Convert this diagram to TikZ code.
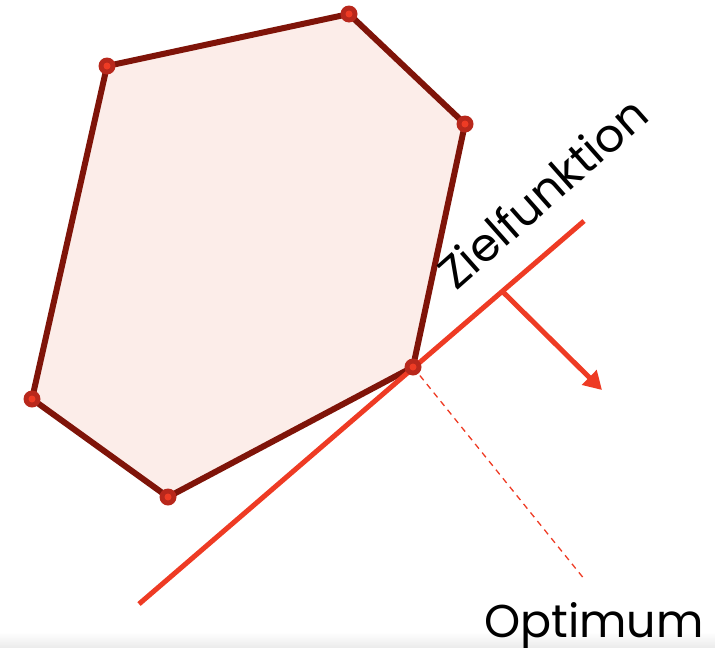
\documentclass[tikz,border=0pt]{standalone}
\usepackage{fontspec}
\setmainfont{Poppins}
\usetikzlibrary{arrows.meta}
\definecolor{polyfill}{HTML}{FCEDE9}
\definecolor{polyedge}{HTML}{7F1409}
\definecolor{dotout}{HTML}{B8281C}
\definecolor{dotin}{HTML}{EE3B24}
\definecolor{zfred}{HTML}{EE3B24}
\tikzset{
  edge/.style={draw=polyedge,line width=6pt,line join=round},
  zf/.style={draw=zfred,line width=5pt},
  lbl/.style={font=\fontsize{46}{52}\selectfont,inner sep=0pt,text=black}
}
\begin{document}
\begin{tikzpicture}[x=1pt,y=-1pt]
\useasboundingbox (0,0) rectangle (715,648);
\shade[top color=white,bottom color=black!8] (0,632) rectangle (715,648);
\coordinate (v1) at (107,66);
\coordinate (v2) at (349,14);
\coordinate (v3) at (465,124);
\coordinate (v4) at (413,367);
\coordinate (v5) at (168,497);
\coordinate (v6) at (32,399);
\filldraw[fill=polyfill,edge] (v1)--(v2)--(v3)--(v4)--(v5)--(v6)--cycle;
\coordinate (la) at (139,604);
\coordinate (lb) at (584,221);
\coordinate (tk) at (503,292);
\coordinate (ae) at (602,390);
\coordinate (de) at (585,580);
\draw[zf] (la)--(lb);
\draw[zf,-{Triangle[length=18pt,width=20pt]}] (tk)--(ae);
\draw[draw=zfred,line width=1.3pt,dash pattern=on 6pt off 5pt] (v4)--(de);
\foreach \v in {v1,v2,v3,v4,v5,v6} {
  \fill[dotout] (\v) circle (8.5pt);
  \fill[dotin] (\v) circle (3.5pt);
}
\node[lbl,rotate=41.5,anchor=base west] (zt) at (456,292) {Zielfunktion};
\node[lbl,anchor=base west] (opt) at (484,637) {Optimum};
\end{tikzpicture}
\end{document}
